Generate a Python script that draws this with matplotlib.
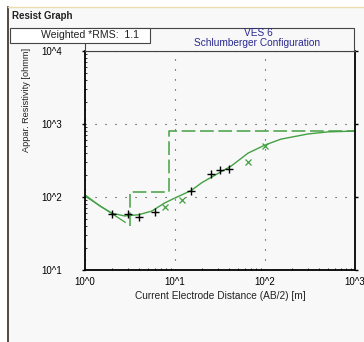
import matplotlib
matplotlib.use('Agg')
import matplotlib.pyplot as plt
from matplotlib.patches import Rectangle
from matplotlib.lines import Line2D

plt.rcParams['font.family'] = ['Liberation Sans', 'DejaVu Sans']

# measured data (AB/2 [m], apparent resistivity [ohmm])
meas_x = [2, 3, 4, 6, 15, 25, 32, 40]
meas_y = [58, 58, 54, 63, 120, 205, 232, 240]

# calculated points
calc_x = [7.7, 12, 65, 100]
calc_y = [73, 91, 300, 500]

# fitted curve
curve_x = [1, 1.47, 2, 2.75, 3.9, 5.5, 7.7, 10, 15, 20, 30, 42, 65, 100, 150, 300, 500, 1000]
curve_y = [107, 75, 60, 55, 57, 64, 83, 97, 122, 158, 210, 265, 400, 515, 620, 730, 780, 800]

# layer model
model_x = [3.16, 3.16, 8.6, 8.6, 1000]
model_y = [40, 116, 116, 800, 800]
layer1_x = [1, 2.8]
layer1_y = [103, 45]

W, H = 364, 342
fig = plt.figure(figsize=(W / 100, H / 100), dpi=100)
fig.patch.set_facecolor('white')

def fx(px):
    return px / W

def fy(py):
    return 1 - py / H

# window background and border
fig.add_artist(Rectangle((fx(8), 0), 1 - fx(8), fy(7), transform=fig.transFigure,
                         facecolor='#f8f8f8', edgecolor='none', zorder=0))
fig.add_artist(Line2D([fx(8), fx(8)], [0, fy(7)], transform=fig.transFigure, color='#3a2a20', lw=1.2))
fig.add_artist(Line2D([fx(8), 1], [fy(7), fy(7)], transform=fig.transFigure, color='#ecdcb0', lw=1.0))
fig.text(fx(12), fy(16), 'Resist Graph', fontsize=7, fontweight='bold', color='#222222', va='center')

ax = fig.add_axes([fx(85), fy(270), fx(355) - fx(85), fy(51) - fy(270)])
ax.set_facecolor('#f8f8f8')
ax.set_xscale('log')
ax.set_yscale('log')
ax.set_xlim(1, 1000)
ax.set_ylim(10, 10000)

green = '#44a044'
ax.plot(layer1_x, layer1_y, color=green, lw=0.9)
ax.plot(model_x, model_y, color=green, lw=1.1, dashes=(9, 3))
ax.plot(curve_x, curve_y, color=green, lw=1.0)
ax.plot(calc_x, calc_y, 'x', color=green, ms=4, mew=0.9)
ax.plot(meas_x, meas_y, '+', color='black', ms=5.5, mew=1.0)

ax.set_xticks([1, 10, 100, 1000])
ax.set_xticklabels(['10^0', '10^1', '10^2', '10^3'], fontsize=7)
ax.set_yticks([10, 100, 1000, 10000])
ax.set_yticklabels(['10^1', '10^2', '10^3', '10^4'], fontsize=7)
ax.tick_params(which='major', direction='out', length=2.5, width=1, pad=14, axis='y',
               left=True, right=True, labelright=False)
ax.tick_params(which='major', direction='out', length=0, pad=5, axis='x')
ax.tick_params(which='minor', direction='in', length=1.5, width=0.7, color='#333333',
               left=True, bottom=True, right=False, top=False)
ax.grid(True, which='major', color='#333333', lw=0.8, linestyle=(0, (1, 8)))

for side in ['left', 'bottom', 'right']:
    ax.spines[side].set_linewidth(1.3)
ax.spines['top'].set_linewidth(0.8)
ax.spines['top'].set_color('#555555')

ax.set_xlabel('Current Electrode Distance (AB/2) [m]', fontsize=7.3, labelpad=3, color='#222222')
fig.text(fx(27), fy(100), 'Appar. Resistivity [ohmm]', fontsize=6.6, color='#222222',
         rotation=90, ha='center', va='center')

# title box
fig.add_artist(Rectangle((fx(85), fy(51)), fx(354) - fx(85), fy(28) - fy(51), transform=fig.transFigure,
                         facecolor='#f8f8f8', edgecolor='#444444', lw=0.8, zorder=3))
fig.text(fx(258), fy(33), 'VES 6', fontsize=7.3, color='#2a2a90', ha='center', va='center', zorder=4)
fig.text(fx(257), fy(43), 'Schlumberger Configuration', fontsize=7.3, color='#2a2a90',
         ha='center', va='center', zorder=4)

# RMS box
fig.add_artist(Rectangle((fx(10), fy(43)), fx(150) - fx(10), fy(28) - fy(43), transform=fig.transFigure,
                         facecolor='white', edgecolor='#444444', lw=0.8, zorder=5))
fig.text(fx(90), fy(35.5), 'Weighted *RMS:  1.1', fontsize=7.6, color='#222222',
         ha='center', va='center', zorder=6)

fig.savefig('out.png', dpi=100, facecolor=fig.get_facecolor())
